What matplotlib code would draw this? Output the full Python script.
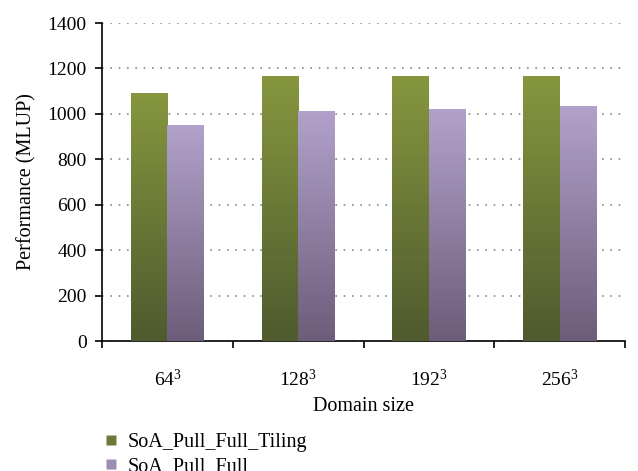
import matplotlib
matplotlib.use('Agg')
import matplotlib.pyplot as plt
import numpy as np
from matplotlib.colors import LinearSegmentedColormap
from matplotlib.lines import Line2D

plt.rcParams['font.family'] = 'Liberation Serif'
plt.rcParams['mathtext.fontset'] = 'custom'
plt.rcParams['mathtext.rm'] = 'Liberation Serif'

domains = ['64', '128', '192', '256']
tiling = [1092, 1167, 1167, 1167]
full = [951, 1013, 1022, 1035]
series_names = ['SoA_Pull_Full_Tiling', 'SoA_Pull_Full']

green = LinearSegmentedColormap.from_list('g', ['#4f5a2e', '#86973f'])
purple = LinearSegmentedColormap.from_list('p', ['#6c5d7a', '#b2a2cb'])

fig = plt.figure(figsize=(6.38, 4.71), dpi=100)
ax = fig.add_axes([0.16, 0.276, 0.82, 0.675])

x = np.arange(len(domains))
w = 0.28
grad = np.linspace(0, 1, 256).reshape(-1, 1)


def gradient_bars(xs, vals, cmap):
    bars = ax.bar(xs, vals, w, color='none', edgecolor='none', zorder=3)
    for b in bars:
        x0, y0 = b.get_x(), b.get_y()
        im = ax.imshow(grad, cmap=cmap, origin='lower', aspect='auto',
                       extent=[x0, x0 + b.get_width(), y0, y0 + b.get_height()],
                       zorder=3)
        im.set_clip_path(b)
    return bars


gradient_bars(x - w / 2, tiling, green)
gradient_bars(x + w / 2, full, purple)

ax.set_xlim(-0.5, len(domains) - 0.5)
ax.set_ylim(0, 1400)
ax.set_yticks(np.arange(0, 1401, 200))
ax.yaxis.grid(True, linestyle=(0, (1, 4)), color='#888888', linewidth=1.2)
ax.set_axisbelow(True)

ax.set_xticks(np.arange(-0.5, len(domains), 1))
ax.set_xticklabels([])
ax.set_xticks(x, minor=True)
ax.set_xticklabels([r'$\mathregular{%s^3}$' % d for d in domains], minor=True)
ax.tick_params(axis='x', which='minor', length=0, pad=20, labelsize=14)
ax.tick_params(axis='x', which='major', length=5, width=1.2, direction='out')
ax.tick_params(axis='y', length=5, width=1.2, direction='out', labelsize=14, pad=6)

for s in ['top', 'right']:
    ax.spines[s].set_visible(False)
for s in ['left', 'bottom']:
    ax.spines[s].set_linewidth(1.2)

ax.set_xlabel('Domain size', fontsize=14.5, labelpad=5)
ax.set_ylabel('Performance (MLUP)', fontsize=14.5, labelpad=8)

# legend sits under the axes; the second entry runs off the bottom edge
handles = [Line2D([], [], marker='s', linestyle='none', markersize=7,
                  markerfacecolor=c, markeredgecolor='none')
           for c in ['#6b7a36', '#9d8db5']]
fig.legend(handles, series_names, loc='upper left', bbox_to_anchor=(0.143, 0.098),
           frameon=False, fontsize=14.5, handletextpad=0.2, labelspacing=0.25,
           borderaxespad=0, handlelength=1.2)

fig.savefig('out.png', dpi=100)
